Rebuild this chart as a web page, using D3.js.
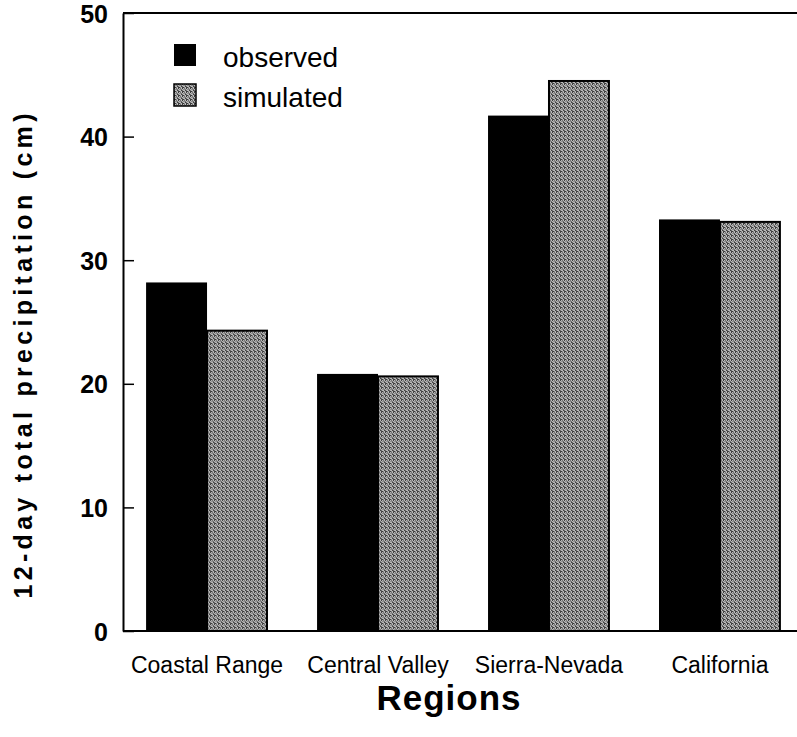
<!DOCTYPE html>
<html>
<head>
<meta charset="utf-8">
<script src="https://cdn.jsdelivr.net/npm/d3@7"></script>
<style>
  body { margin: 0; background: #fff; }
  svg { display: block; font-family: "Liberation Sans", Arial, Helvetica, sans-serif; }
</style>
</head>
<body>
<script>
// data
var regions = ["Coastal Range", "Central Valley", "Sierra-Nevada", "California"];
var seriesNames = ["observed", "simulated"];
var observed = [28.2, 20.8, 41.7, 33.3];
var simulated = [24.3, 20.6, 44.5, 33.1];
var yTicks = [0, 10, 20, 30, 40, 50];

var W = 797, H = 737;
var plotLeft = 123, plotTop = 13, plotBottom = 631, plotRight = 804;

var svg = d3.select("body").append("svg")
    .attr("width", W)
    .attr("height", H);

// stipple fill for the simulated bars
var defs = svg.append("defs");
var pat = defs.append("pattern")
    .attr("id", "stipple")
    .attr("width", 4)
    .attr("height", 4)
    .attr("patternUnits", "userSpaceOnUse");
pat.append("rect").attr("width", 4).attr("height", 4).attr("fill", "#bcbcbc");
[[0,0],[2,0],[1,1],[3,2],[0,2],[2,3],[1,3],[3,1],[2,1],[0,3]].forEach(function(p, i){
    pat.append("rect")
        .attr("x", p[0]).attr("y", p[1])
        .attr("width", 1).attr("height", 1)
        .attr("fill", i % 3 === 0 ? "#3c3c3c" : (i % 3 === 1 ? "#6e6e6e" : "#8c8c8c"));
});

var y = d3.scaleLinear().domain([0, 50]).range([plotBottom, plotTop]);

var x0 = d3.scaleBand()
    .domain(regions)
    .range([plotLeft, plotRight])
    .paddingInner(0.287)
    .paddingOuter(0.135);

var x1 = d3.scaleBand()
    .domain(seriesNames)
    .range([0, x0.bandwidth()]);

// bars
var groups = svg.selectAll("g.region").data(regions).enter().append("g")
    .attr("class", "region")
    .attr("transform", function(d){ return "translate(" + x0(d) + ",0)"; });

groups.append("rect")
    .attr("x", x1("observed"))
    .attr("y", function(d, i){ return y(observed[i]); })
    .attr("width", x1.bandwidth())
    .attr("height", function(d, i){ return y(0) - y(observed[i]); })
    .attr("fill", "#000");

groups.append("rect")
    .attr("x", x1("simulated"))
    .attr("y", function(d, i){ return y(simulated[i]); })
    .attr("width", x1.bandwidth() - 1)
    .attr("height", function(d, i){ return y(0) - y(simulated[i]); })
    .attr("fill", "url(#stipple)")
    .attr("stroke", "#000")
    .attr("stroke-width", 2);

// frame
svg.append("line")
    .attr("x1", plotLeft).attr("x2", W + 10)
    .attr("y1", plotTop).attr("y2", plotTop)
    .attr("stroke", "#000").attr("stroke-width", 2);
svg.append("line")
    .attr("x1", plotLeft).attr("x2", W + 10)
    .attr("y1", plotBottom).attr("y2", plotBottom)
    .attr("stroke", "#000").attr("stroke-width", 2);

// y axis
var yAxis = d3.axisLeft(y)
    .tickValues(yTicks)
    .tickSizeInner(-11)
    .tickSizeOuter(0)
    .tickPadding(15);

var yg = svg.append("g")
    .attr("transform", "translate(" + plotLeft + ",0)")
    .call(yAxis);
yg.select(".domain").attr("stroke", "#000").attr("stroke-width", 2);
yg.selectAll(".tick line").attr("stroke", "#000").attr("stroke-width", 1.5);
yg.selectAll(".tick text")
    .attr("fill", "#000")
    .style("font-size", "25px")
    .style("font-weight", "bold")
    .attr("dy", "0.36em");

// category labels
svg.selectAll("text.cat").data(regions).enter().append("text")
    .attr("class", "cat")
    .attr("x", function(d){ return x0(d) + x0.bandwidth() / 2; })
    .attr("y", 673)
    .attr("text-anchor", "middle")
    .style("font-size", "23px")
    .text(function(d){ return d; });

// axis titles
svg.append("text")
    .attr("x", 449)
    .attr("y", 710)
    .attr("text-anchor", "middle")
    .style("font-size", "35px")
    .style("font-weight", "bold")
    .style("letter-spacing", "1px")
    .text("Regions");

svg.append("text")
    .attr("transform", "translate(32,356) rotate(-90)")
    .attr("text-anchor", "middle")
    .attr("textLength", 485)
    .attr("lengthAdjust", "spacing")
    .style("font-size", "25px")
    .style("font-weight", "bold")
    .text("12-day total precipitation (cm)");

// legend
var legend = svg.selectAll("g.legend").data(seriesNames).enter().append("g")
    .attr("class", "legend")
    .attr("transform", function(d, i){ return "translate(174," + (44 + i * 40) + ")"; });

legend.append("rect")
    .attr("width", 22)
    .attr("height", 22)
    .attr("fill", function(d, i){ return i === 0 ? "#000" : "url(#stipple)"; })
    .attr("stroke", "#000")
    .attr("stroke-width", function(d, i){ return i === 0 ? 0 : 1.5; });

legend.append("text")
    .attr("x", 49)
    .attr("y", 23)
    .style("font-size", "28px")
    .text(function(d){ return d; });
</script>
</body>
</html>
